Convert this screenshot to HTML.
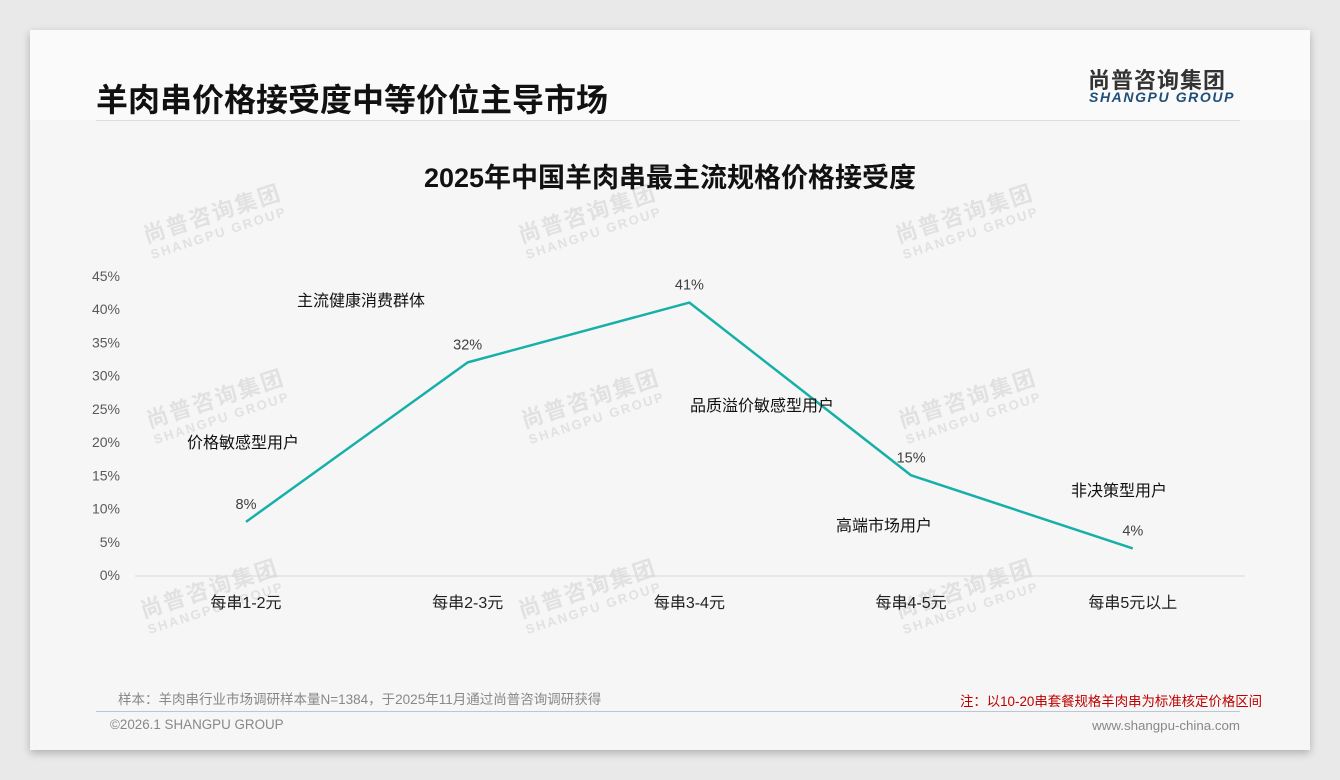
<!DOCTYPE html>
<html><head><meta charset="utf-8">
<style>
body{margin:0;width:1340px;height:780px;background:#e9e9e9;font-family:"Liberation Sans","Noto Sans CJK SC",sans-serif;overflow:hidden;position:relative}
#card{position:absolute;left:30px;top:30px;width:1280px;height:720px;background:#f6f6f6;box-shadow:0 3px 8px rgba(0,0,0,0.25)}
#header{position:absolute;left:0;top:0;width:1280px;height:90px;background:#fafafa}
.abs{position:absolute;white-space:nowrap}
.wm{position:absolute;transform:rotate(-18deg);color:rgba(200,200,200,0.45);font-weight:bold;text-align:center;line-height:1}
</style></head><body>
<div id="card">
<div id="header"></div>
<div class="abs" style="left:66px;top:45px;font-size:32px;font-weight:bold;color:#111">羊肉串价格接受度中等价位主导市场</div>
<div class="abs" style="left:1058px;top:33px;font-size:22px;font-weight:bold;color:#333;letter-spacing:1px">尚普咨询集团</div>
<div class="abs" style="left:1059px;top:59px;font-size:14px;font-weight:bold;font-style:italic;color:#1f4e79;letter-spacing:1.6px">SHANGPU GROUP</div>
<div class="abs" style="left:66px;top:90px;width:1144px;height:1px;background:#ddd"></div>
<div class="abs" style="left:66px;top:681px;width:1144px;height:1px;background:#b8c8d8"></div>
<div class="abs" style="left:88px;top:658px;font-size:13.5px;color:#888">样本：羊肉串行业市场调研样本量N=1384，于2025年11月通过尚普咨询调研获得</div>
<div class="abs" style="right:48px;top:660px;font-size:13.4px;color:#c00000">注：以10-20串套餐规格羊肉串为标准核定价格区间</div>
<div class="abs" style="left:80px;top:687px;font-size:13.4px;color:#888">©2026.1 SHANGPU GROUP</div>
<div class="abs" style="right:70px;top:688px;font-size:13.3px;color:#888">www.shangpu-china.com</div>
</div>
<div id="wms"></div>
<svg id="chart" width="1340" height="780" style="position:absolute;left:0;top:0"></svg>
<script>
const categories=["每串1-2元","每串2-3元","每串3-4元","每串4-5元","每串5元以上"];
const values=[8,32,41,15,4];
const yTicks=[0,5,10,15,20,25,30,35,40,45];
const annotations=["主流健康消费群体","价格敏感型用户","品质溢价敏感型用户","高端市场用户","非决策型用户"];
const annoPos=[[297,301],[187,443],[690,406],[836,526],[1071,491]];
const NS="http://www.w3.org/2000/svg";
const svg=document.getElementById('chart');
const x=i=>246+i*221.7;
const y=v=>575-v*(299/45);
function mk(t,a,txt){const e=document.createElementNS(NS,t);for(const k in a)e.setAttribute(k,a[k]);if(txt!=null)e.textContent=txt;svg.appendChild(e);return e;}
const wmc=document.getElementById('wms');
[[215,225],[590,225],[967,225],[218,410],[593,410],[970,410],[212,600],[590,600],[967,600]].forEach(p=>{
const d=document.createElement('div');d.className='wm';


d.style.left=(p[0]-80)+'px';d.style.top=(p[1]-22)+'px';d.style.width='160px';
d.innerHTML='<div style="font-size:22px;letter-spacing:2px">尚普咨询集团</div><div style="font-size:13px;letter-spacing:2px;margin-top:2px">SHANGPU GROUP</div>';
wmc.appendChild(d);});
let e=mk('text',{x:670,y:187,'text-anchor':'middle','font-size':27,'font-weight':'bold',fill:'#111'},'2025年中国羊肉串最主流规格价格接受度');


e=mk('line',{x1:135,x2:1245,y1:y(0)+1,y2:y(0)+1,stroke:'#d9d9d9','stroke-width':1});


yTicks.forEach(t=>{const el=mk('text',{x:120,y:y(t)+5,'text-anchor':'end','font-size':14,fill:'#595959'},t+'%');

});
categories.forEach((c,i)=>{const el=mk('text',{x:x(i),y:608,'text-anchor':'middle','font-size':16,fill:'#222'},c);

});
const pts=values.map((v,i)=>x(i)+','+y(v)).join(' ');
e=mk('polyline',{points:pts,fill:'none',stroke:'#17b0a8','stroke-width':2.5,'stroke-linejoin':'round'});


values.forEach((v,i)=>{const el=mk('text',{x:x(i),y:y(v)-13,'text-anchor':'middle','font-size':14.5,fill:'#404040'},v+'%');

});
annotations.forEach((a,i)=>{const el=mk('text',{x:annoPos[i][0],y:annoPos[i][1]+5,'font-size':16,fill:'#111'},a);

});
</script>
</body></html>
